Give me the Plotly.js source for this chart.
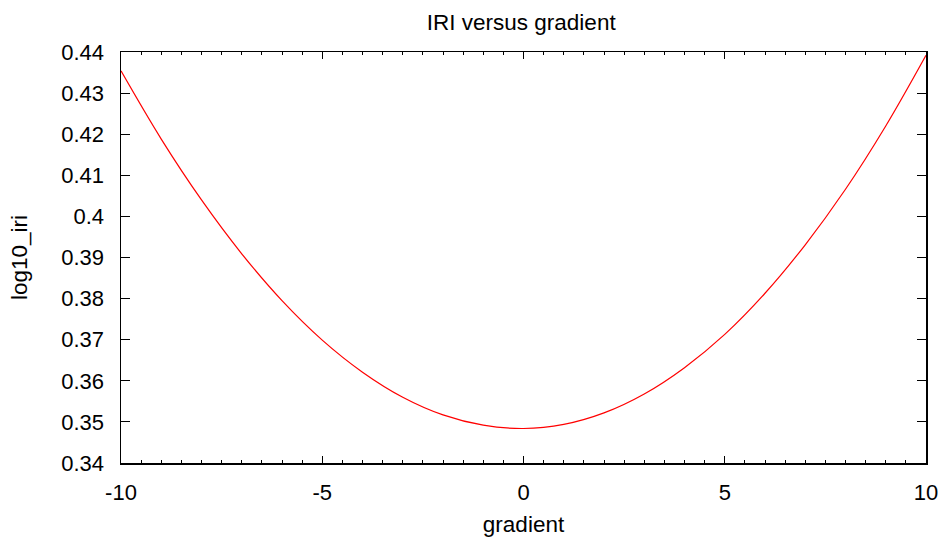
<!DOCTYPE html>
<html>
<head>
<meta charset="utf-8">
<script src="https://cdn.plot.ly/plotly-3.0.1.min.js"></script>
<style>html,body{margin:0;padding:0;background:#fff;}#chart{width:946px;height:538px;}</style>
</head>
<body>
<div id="chart"></div>
<script>
// Data
const gradient = [-10, -9, -8, -7, -6, -5, -4, -3, -2, -1, 0, 1, 2, 3, 4, 5, 6, 7, 8, 9, 10];
const log10Iri = [0.4354, 0.4188, 0.4040, 0.3909, 0.3795, 0.3699, 0.3621, 0.3560, 0.3517, 0.3492, 0.3484,
                  0.3494, 0.3522, 0.3568, 0.3632, 0.3713, 0.3813, 0.3931, 0.4066, 0.4220, 0.4392];
const xTickVals = [-10, -5, 0, 5, 10];
const xTickText = ["-10", "-5", "0", "5", "10"];
const yTickVals = [0.34, 0.35, 0.36, 0.37, 0.38, 0.39, 0.40, 0.41, 0.42, 0.43, 0.44];
const yTickText = ["0.34", "0.35", "0.36", "0.37", "0.38", "0.39", "0.4", "0.41", "0.42", "0.43", "0.44"];

const FONT = "Liberation Sans, Arial, sans-serif";

const trace = {
  x: gradient,
  y: log10Iri,
  type: "scatter",
  mode: "lines",
  line: {color: "#ff0000", width: 1.2, shape: "spline", smoothing: 1},
  hoverinfo: "skip"
};

const layout = {
  width: 946,
  height: 538,
  margin: {l: 121, r: 20, t: 52, b: 75, pad: 0},
  paper_bgcolor: "#ffffff",
  plot_bgcolor: "#ffffff",
  showlegend: false,
  font: {family: FONT, size: 22, color: "#000"},
  title: {text: "IRI versus gradient", font: {family: FONT, size: 22.5, color: "#000"},
          x: 0.551, xanchor: "center", y: 0.958, yanchor: "middle"},
  xaxis: {
    range: [-10, 10],
    tickmode: "array",
    tickvals: xTickVals,
    ticktext: xTickText,
    ticks: "inside",
    ticklen: 7,
    tickwidth: 1,
    tickcolor: "#000",
    minor: {dtick: 0.5, ticks: "inside", ticklen: 3, tickwidth: 1, tickcolor: "#000"},
    showline: true,
    linecolor: "#000",
    linewidth: 1.5,
    mirror: "ticks",
    showgrid: false,
    zeroline: false,
    ticklabelstandoff: 9,
    tickfont: {family: FONT, size: 22, color: "#000"},
    title: {text: "gradient", font: {family: FONT, size: 22.5, color: "#000"}, standoff: 12}
  },
  yaxis: {
    range: [0.34, 0.44],
    tickmode: "array",
    tickvals: yTickVals,
    ticktext: yTickText,
    ticks: "inside",
    ticklen: 9,
    tickwidth: 1,
    tickcolor: "#000",
    showline: true,
    linecolor: "#000",
    linewidth: 1.5,
    mirror: "ticks",
    showgrid: false,
    zeroline: false,
    ticklabelstandoff: 11,
    tickfont: {family: FONT, size: 22, color: "#000"},
    title: {text: "log10_iri", font: {family: FONT, size: 22.5, color: "#000"}, standoff: 27}
  }
};

Plotly.newPlot("chart", [trace], layout, {staticPlot: true, displayModeBar: false});
</script>
</body>
</html>
